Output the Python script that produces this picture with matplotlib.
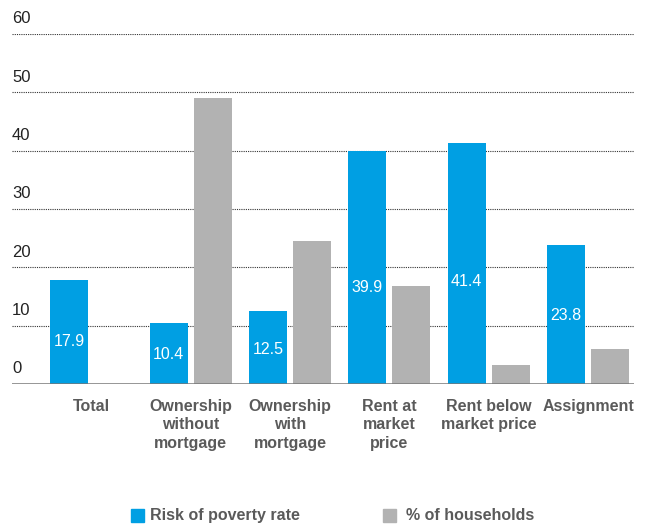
import matplotlib.pyplot as plt
import numpy as np

plt.rcParams['font.family'] = ['Liberation Sans', 'DejaVu Sans']

categories = ["Total", "Ownership\nwithout\nmortgage", "Ownership\nwith\nmortgage",
              "Rent at\nmarket\nprice", "Rent below\nmarket price", "Assignment"]
poverty_rate = [17.9, 10.4, 12.5, 39.9, 41.4, 23.8]
households = [0, 49.0, 24.5, 16.8, 3.3, 6.0]
yticks = [0, 10, 20, 30, 40, 50, 60]

# where the value labels sit inside the blue bars
label_y = [7.2, 5.0, 6.0, 16.6, 17.5, 11.7]

blue = "#009FE3"
grey = "#B2B2B2"
text_grey = "#5a5a5a"

fig = plt.figure(figsize=(6.46, 5.24), dpi=100)
ax = fig.add_axes([12 / 646, 140 / 524, 622 / 646, 350 / 524])

x = np.arange(len(categories))
w = 0.382
off = 0.221
ax.bar(x - off, poverty_rate, w, color=blue, zorder=3)
ax.bar(x + off, households, w, color=grey, zorder=3)

for xi, v, ly in zip(x, poverty_rate, label_y):
    ax.text(xi - off, ly, f"{v}", ha="center", va="center", color="white", fontsize=11.5, zorder=4)

ax.set_xlim(-0.797, 5.462)
ax.set_ylim(0, 60)

for t in yticks[1:]:
    ax.axhline(t, color="#333333", lw=0.8, ls=(0, (1, 1)), zorder=1)
ax.axhline(0, color="#777777", lw=1.8, zorder=5)
for t in yticks:
    ax.text(-0.797, t + 1.3, str(t), ha="left", va="bottom", fontsize=12, color="#222222")

for xi, c in zip(x, categories):
    ax.text(xi, -2.5, c, ha="center", va="top", fontsize=11.5, fontweight="bold",
            color=text_grey, linespacing=1.3)

ax.set_xticks([])
ax.set_yticks([])
for s in ax.spines.values():
    s.set_visible(False)

# legend
fig.patches.append(plt.Rectangle((131 / 646, 1 - 522 / 524), 13 / 646, 13 / 524,
                                 transform=fig.transFigure, color=blue))
fig.text(150 / 646, 1 - 515.5 / 524, "Risk of poverty rate", va="center", fontsize=11.5,
         fontweight="bold", color=text_grey)
fig.patches.append(plt.Rectangle((383 / 646, 1 - 522 / 524), 13 / 646, 13 / 524,
                                 transform=fig.transFigure, color=grey))
fig.text(406 / 646, 1 - 515.5 / 524, "% of households", va="center", fontsize=11.5,
         fontweight="bold", color=text_grey)

fig.savefig("out.png", dpi=100)
